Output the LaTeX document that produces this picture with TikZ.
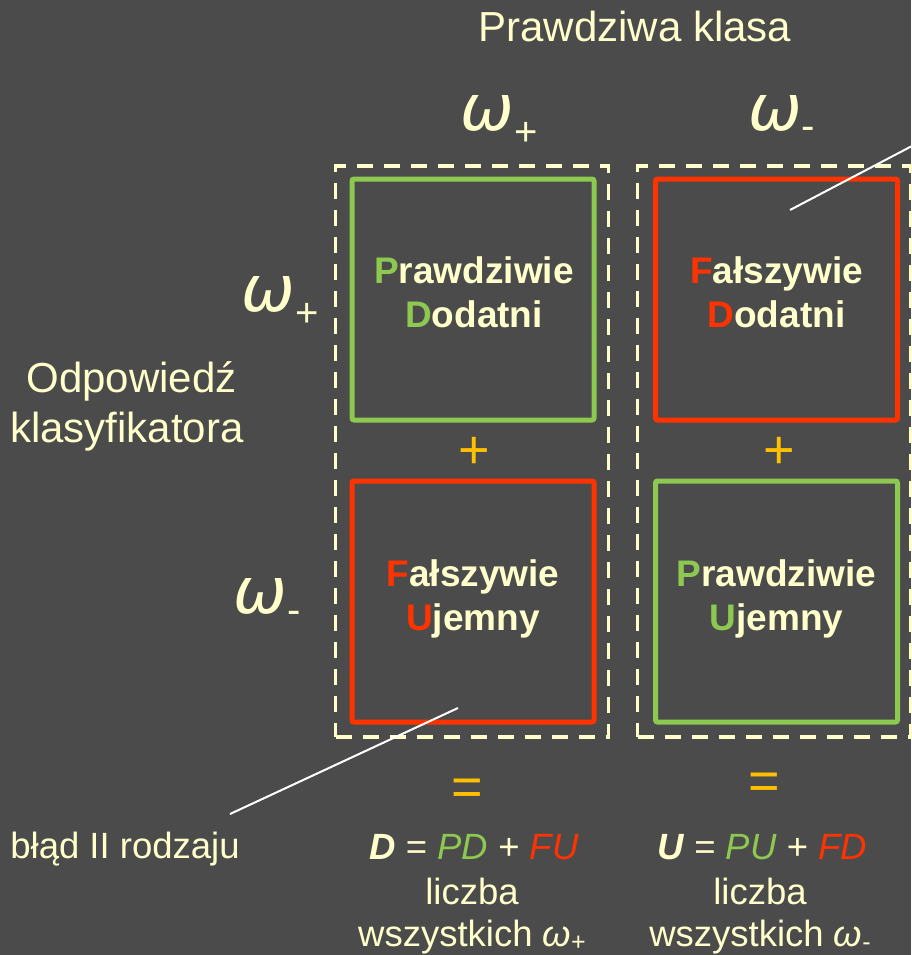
\documentclass[tikz,border=0pt]{standalone}
\usepackage{fontspec}
\setmainfont{Liberation Sans}
\newfontfamily\omfont{DejaVu Sans}
\definecolor{bg}{HTML}{4B4B4B}
\definecolor{cream}{HTML}{FFFFCC}
\definecolor{grn}{HTML}{8DC850}
\definecolor{rd}{HTML}{FF3300}
\definecolor{yel}{HTML}{FFC000}
\tikzset{
  lbl/.style={text=cream, inner sep=0pt, anchor=base, font=\fontsize{42}{42}\selectfont},
  ttl/.style={lbl, font=\fontsize{42}{42}\selectfont},
  btm/.style={lbl, font=\fontsize{36.5}{36.5}\selectfont},
  frm/.style={lbl, font=\fontsize{36.5}{36.5}\selectfont},
  cell/.style={draw, line width=5pt, rounded corners=2pt, minimum width=242pt, minimum height=241pt, inner sep=0pt},
  celltxt/.style={text=cream, inner sep=0pt, anchor=base, font=\bfseries\fontsize{37}{37}\selectfont},
  dashbox/.style={draw=cream, line width=3.5pt, dash pattern=on 16pt off 11pt, minimum width=273pt, minimum height=571pt, inner sep=0pt},
  om/.style={text=cream, inner sep=0pt, font=\omfont\itshape\fontsize{64}{64}\selectfont},
  omsub/.style={text=cream, inner sep=0pt, font=\fontsize{40}{40}\selectfont},
  sym/.style={text=yel, inner sep=0pt, font=\fontsize{54}{54}\selectfont},
  leader/.style={draw=white, line width=2pt}
}
\begin{document}
\begin{tikzpicture}[x=1pt,y=-1pt]
\fill[bg] (0,0) rectangle (911,955);
\useasboundingbox (0,0) rectangle (911,955);

% title
\node[ttl] (title) at (635,42) {Prawdziwa klasa};

% column omegas
\node[om] (wpT) at (487.5,113.5) {ω};
\node[omsub] (wpTs) at (526,134) {+};
\node[om] (wmT) at (775,113.5) {ω};
\node[omsub] (wmTs) at (808,133) {-};

% row omegas
\node[om] (wpL) at (268.5,294) {ω};
\node[omsub] (wpLs) at (307,315) {+};
\node[om] (wmL) at (260,596.5) {ω};
\node[omsub] (wmLs) at (294,617) {-};

% left label
\node[lbl] (odp1) at (131.5,392) {Odpowiedź};
\node[lbl] (odp2) at (127,442) {klasyfikatora};

% dashed column boxes
\node[dashbox] (colP) at (472,451.5) {};
\node[dashbox] (colM) at (774,451.5) {};

% cells
\node[cell, draw=grn] (PD) at (473,299.5) {};
\node[cell, draw=rd] (FD) at (776.5,299.5) {};
\node[cell, draw=rd] (FU) at (473,601.5) {};
\node[cell, draw=grn] (PU) at (776.5,601.5) {};

\node[celltxt] (PDa) at (474,283) {\textcolor{grn}{P}rawdziwie};
\node[celltxt] (PDb) at (474,327) {\textcolor{grn}{D}odatni};
\node[celltxt] (FDa) at (776.5,283) {\textcolor{rd}{F}ałszywie};
\node[celltxt] (FDb) at (776.5,327) {\textcolor{rd}{D}odatni};
\node[celltxt] (FUa) at (473,586) {\textcolor{rd}{F}ałszywie};
\node[celltxt] (FUb) at (473,630) {\textcolor{rd}{U}jemny};
\node[celltxt] (PUa) at (776.5,586) {\textcolor{grn}{P}rawdziwie};
\node[celltxt] (PUb) at (776.5,630) {\textcolor{grn}{U}jemny};

% plus and equals
\node[sym] (plusL) at (474,453) {+};
\node[sym] (plusR) at (779,453) {+};
\node[sym] (eqL) at (467,792) {=};
\node[sym] (eqR) at (764,786) {=};

% bottom formulas
\node[frm] (fD) at (474,859) {\textbf{\textit{D}} = \textcolor{grn}{\textit{PD}} + \textcolor{rd}{\textit{FU}}};
\node[btm] (lD) at (472,904) {liczba};
\node[btm] (wD) at (472,946) {wszystkich \textit{ω}\raisebox{-4pt}{\fontsize{25}{25}\selectfont +}};
\node[frm] (fU) at (762,859) {\textbf{\textit{U}} = \textcolor{grn}{\textit{PU}} + \textcolor{rd}{\textit{FD}}};
\node[btm] (lU) at (760,904) {liczba};
\node[btm] (wU) at (760,946) {wszystkich \textit{ω}\raisebox{-4pt}{\fontsize{25}{25}\selectfont -}};

% annotation
\node[btm] (err) at (125,858) {błąd II rodzaju};
\coordinate (errA) at (458,708);
\coordinate (errB) at (230,814);
\draw[leader] (errA) -- (errB);
\coordinate (fpA) at (790,210);
\coordinate (fpB) at (912,146);
\draw[leader] (fpA) -- (fpB);
\end{tikzpicture}
\end{document}
